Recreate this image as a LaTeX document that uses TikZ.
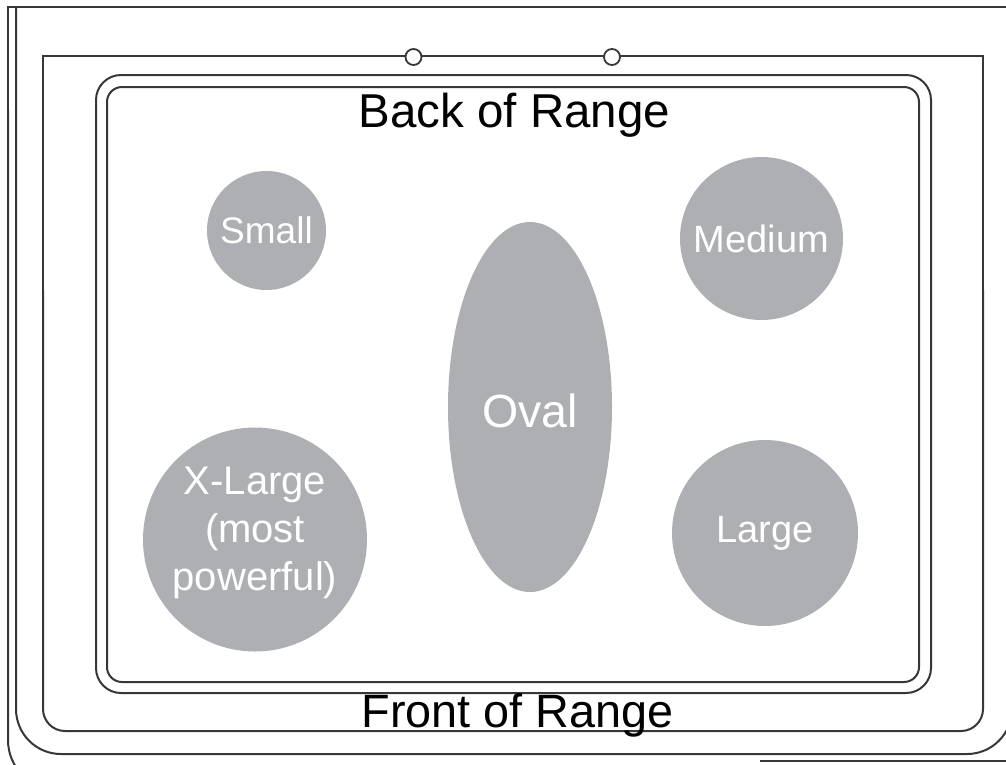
\documentclass[tikz,border=0pt]{standalone}
\usepackage{fontspec}
\setmainfont{Liberation Sans}
\usepackage{tikz}
\usetikzlibrary{shapes.geometric}
\definecolor{burnergray}{RGB}{174,175,179}
\definecolor{linegray}{RGB}{55,55,55}

\begin{document}
\begin{tikzpicture}[x=1pt, y=-1pt,
  frame/.style={draw=linegray, line width=2pt},
  burner/.style={circle, fill=burnergray, text=white, inner sep=0pt},
  knob/.style={circle, draw=linegray, line width=1.8pt, fill=white,
    minimum size=16pt, inner sep=0pt}]
  \useasboundingbox (0,0) rectangle (1006,764);
  \clip (0,0) rectangle (1006,764);
  \draw[frame] (1010,7) -- (8,7) -- (8,120);
  \draw[frame, rounded corners=50] (8,110) -- (8,790) -- (70,790);
  \draw[frame] (760,761) -- (1010,761);
  \draw[frame, rounded corners=45] (16,7) -- (16,754) -- (1012,754) -- (1012,600);
  \draw[frame] (43,300) -- (43,56) -- (983,56) -- (983,300);
  \draw[frame, rounded corners=22] (43,290) -- (43,731) -- (983,731) -- (983,290);
  \draw[frame, rounded corners=25] (96,75) rectangle (931,693);
  \draw[frame, rounded corners=15] (107,87) rectangle (919,682);
  \node[knob] (knobleft) at (413.5,57) {};
  \node[knob] (knobright) at (612,57) {};
  \node[anchor=base, font=\fontsize{47.5}{56}\selectfont] (back) at (514.5,127) {Back of Range};
  \node[anchor=base, font=\fontsize{46.8}{56}\selectfont] (front) at (517.5,727) {Front of Range};
  \node[burner, minimum size=119pt, font=\fontsize{37}{44}\selectfont] (small) at (266.5,230.5) {Small};
  \node[burner, minimum size=163pt, font=\fontsize{38}{46}\selectfont] (medium) at (761.5,238.5) {Medium};
  \node[burner, ellipse, minimum width=164pt, minimum height=370pt, text height=42pt,
    font=\fontsize{46.5}{56}\selectfont] (oval) at (530,407) {Oval};
  \node[burner, minimum size=224pt, align=center, text depth=22pt,
    font=\fontsize{40}{48}\selectfont] (xlarge) at (255,539.5) {X-Large\\(most\\powerful)};
  \node[burner, minimum size=186pt, font=\fontsize{38}{46}\selectfont] (large) at (765,533) {Large};
\end{tikzpicture}
\end{document}
